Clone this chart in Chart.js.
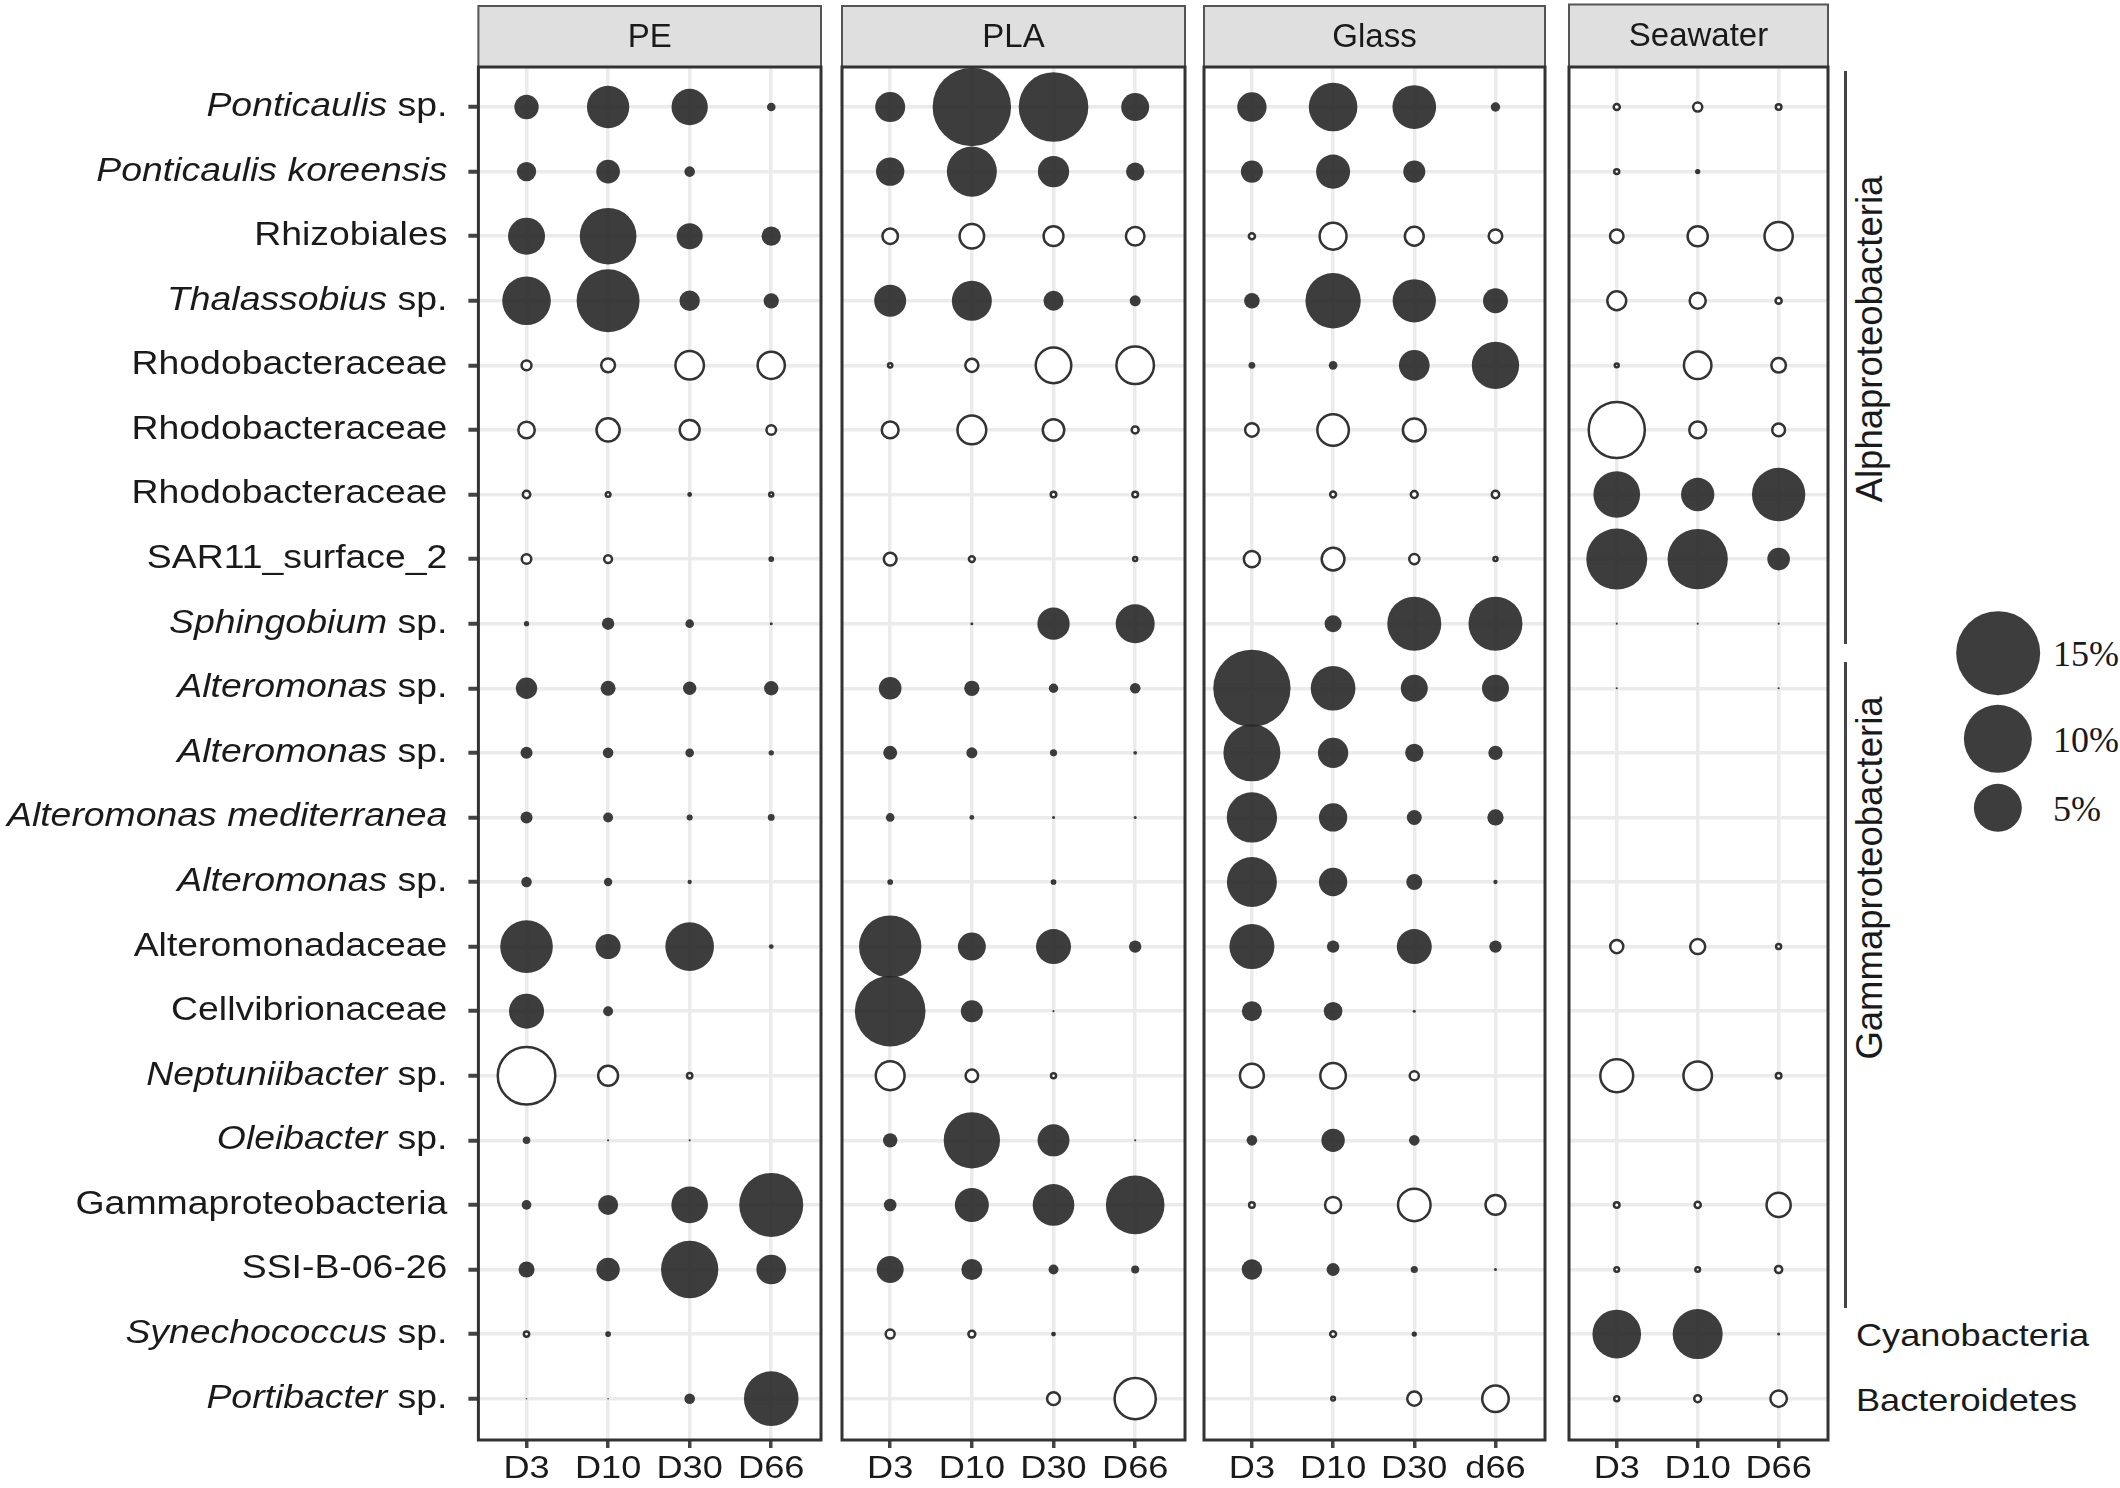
<!DOCTYPE html>
<html>
<head>
<meta charset="utf-8">
<script src="https://cdn.jsdelivr.net/npm/chart.js@4.4.1/dist/chart.umd.min.js"></script>
<style>
  html, body { margin: 0; padding: 0; background: #ffffff; }
  #wrap { position: relative; width: 2120px; height: 1488px; overflow: hidden; background: #ffffff;
          font-family: 'Liberation Sans', Arial, sans-serif; color: #1a1a1a; }
  canvas { position: absolute; top: 0; }
  .gline { position: absolute; width: 3px; background: #444; }
  .grp { position: absolute; white-space: nowrap; font-size: 36.5px; transform: translate(-50%, -50%) rotate(-90deg); }
  .phy { position: absolute; white-space: nowrap; font-size: 32px; transform-origin: left center; transform: translateY(-50%) scaleX(1.13); }
  .lgc { position: absolute; border-radius: 50%; background: rgba(40,40,40,0.9); transform: translate(-50%, -50%); }
  .lgt { position: absolute; font-family: 'Liberation Serif', 'Times New Roman', serif; font-size: 36px; transform: translateY(-50%); }
</style>
</head>
<body>
<div id="wrap"></div>
<script>
// ---------------- DATA ----------------
const rowNames = [
  'Ponticaulis sp.', 'Ponticaulis koreensis', 'Rhizobiales', 'Thalassobius sp.',
  'Rhodobacteraceae', 'Rhodobacteraceae', 'Rhodobacteraceae', 'SAR11_surface_2',
  'Sphingobium sp.', 'Alteromonas sp.', 'Alteromonas sp.', 'Alteromonas mediterranea',
  'Alteromonas sp.', 'Alteromonadaceae', 'Cellvibrionaceae', 'Neptuniibacter sp.',
  'Oleibacter sp.', 'Gammaproteobacteria', 'SSI-B-06-26', 'Synechococcus sp.', 'Portibacter sp.'
];
// italic (genus / species) part at the start of each row label
const rowItalic = [
  'Ponticaulis', 'Ponticaulis koreensis', '', 'Thalassobius',
  '', '', '', '',
  'Sphingobium', 'Alteromonas', 'Alteromonas', 'Alteromonas mediterranea',
  'Alteromonas', '', '', 'Neptuniibacter',
  'Oleibacter', '', '', 'Synechococcus', 'Portibacter'
];

const panelNames = ['PE', 'PLA', 'Glass', 'Seawater'];
const colsPE    = ['D3', 'D10', 'D30', 'D66'];
const colsPLA   = ['D3', 'D10', 'D30', 'D66'];
const colsGlass = ['D3', 'D10', 'D30', 'd66'];
const colsSea   = ['D3', 'D10', 'D66'];

// relative abundance (%), rows x sampling days
const pctPE = [
  [1.27, 3.85, 2.83, 0.16], [0.80, 1.20, 0.24, 0], [2.93, 6.88, 1.45, 0.80], [5.07, 8.50, 0.89, 0.50],
  [0.33, 0.57, 2.06, 1.89], [0.77, 1.41, 1.07, 0.31], [0.21, 0.11, 0.05, 0.09], [0.31, 0.23, 0, 0.07],
  [0.06, 0.33, 0.16, 0.02], [0.98, 0.48, 0.38, 0.44], [0.31, 0.24, 0.16, 0.06], [0.31, 0.21, 0.08, 0.10],
  [0.24, 0.15, 0.04, 0], [5.94, 1.34, 5.07, 0.05], [2.63, 0.21, 0, 0], [7.72, 1.07, 0.13, 0],
  [0.12, 0.01, 0.01, 0], [0.20, 0.86, 2.88, 8.78], [0.55, 1.17, 7.04, 1.89], [0.13, 0.07, 0, 0],
  [0.005, 0.005, 0.24, 6.40]
];
const pctPLA = [
  [1.93, 13.2, 10.4, 1.68], [1.72, 5.36, 2.10, 0.72], [0.69, 1.56, 1.07, 0.95], [2.19, 3.43, 0.86, 0.26],
  [0.10, 0.52, 3.10, 3.43], [0.80, 2.10, 1.23, 0.19], [0, 0, 0.14, 0.14], [0.50, 0.15, 0, 0.09],
  [0, 0.02, 2.24, 3.26], [1.10, 0.50, 0.19, 0.24], [0.42, 0.26, 0.11, 0.03], [0.16, 0.05, 0.02, 0.02],
  [0.07, 0, 0.07, 0], [8.33, 1.68, 2.63, 0.33], [10.7, 1.04, 0.01, 0], [2.10, 0.48, 0.12, 0],
  [0.44, 6.80, 2.19, 0.01], [0.34, 2.48, 3.72, 7.36], [1.56, 0.95, 0.21, 0.14], [0.28, 0.19, 0.05, 0],
  [0, 0, 0.50, 4.09]
];
const pctGlass = [
  [1.85, 5.07, 4.09, 0.19], [1.04, 2.48, 1.04, 0], [0.16, 1.85, 0.98, 0.55], [0.52, 6.56, 4.02, 1.34],
  [0.10, 0.16, 2.02, 4.80], [0.55, 2.48, 1.37, 0], [0, 0.15, 0.19, 0.21], [0.74, 1.37, 0.34, 0.09],
  [0, 0.62, 6.25, 6.25], [12.8, 4.28, 1.56, 1.56], [6.96, 1.97, 0.72, 0.44], [5.43, 1.72, 0.48, 0.57],
  [5.36, 1.72, 0.55, 0.04], [4.34, 0.33, 2.63, 0.33], [0.86, 0.74, 0.02, 0], [1.49, 1.68, 0.29, 0],
  [0.24, 1.17, 0.24, 0], [0.14, 0.74, 2.63, 1.07], [0.89, 0.36, 0.11, 0.02], [0, 0.15, 0.06, 0],
  [0, 0.08, 0.59, 1.80]
];
const pctSea = [
  [0.16, 0.29, 0.14], [0.12, 0.06, 0], [0.55, 1.10, 2.02], [0.98, 0.74, 0.16],
  [0.09, 1.93, 0.62], [7.36, 0.80, 0.50], [4.67, 2.38, 6.10], [7.97, 7.80, 1.10],
  [0.01, 0.01, 0.01], [0.01, 0, 0.01], [0, 0, 0], [0, 0, 0],
  [0, 0, 0], [0.52, 0.66, 0.12], [0, 0, 0], [2.68, 2.06, 0.14],
  [0, 0, 0], [0.14, 0.16, 1.52], [0.11, 0.11, 0.20], [5.07, 5.36, 0.02],
  [0.12, 0.19, 0.77]
];
// 1 = filled circle, 0 = open circle (per row)
const fillPE    = [1,1,1,1,0,0,0,0,1,1,1,1,1,1,1,0,1,1,1,0,1];
const fillPLA   = [1,1,0,1,0,0,0,0,1,1,1,1,0,1,1,0,1,1,1,0,0];
const fillGlass = [1,1,0,1,1,0,0,0,1,1,1,1,1,1,1,0,1,0,1,0,0];
const fillSea   = [0,0,0,0,0,0,1,1,1,1,0,0,0,0,0,0,0,0,0,1,0];

const legendPct = [15, 10, 5];
const legendLabels = ['15%', '10%', '5%'];

const groupNames = ['Alphaproteobacteria', 'Gammaproteobacteria'];
const phylumNames = ['Cyanobacteria', 'Bacteroidetes'];

// ---------------- STYLE / LAYOUT ----------------
const FILL = 'rgba(40,40,40,0.9)';
const OPEN = '#333333';
const OPEN_W = 2.5;
const rad = v => 10.8 * Math.sqrt(v);
const TOP = 67, BOTTOM_AXIS = 48, H = 1488;
const FONT = "'Liberation Sans', Arial, sans-serif";
const STRETCH = 1.13;
const YSTRETCH = 1.15;

const panels = [
  {name: panelNames[0], cols: colsPE,    vals: pctPE,    fill: fillPE,    left: 478.4, right: 821,    axisW: 478.4, stripTop: 6},
  {name: panelNames[1], cols: colsPLA,   vals: pctPLA,   fill: fillPLA,   left: 842,   right: 1184.6, axisW: 6,     stripTop: 6},
  {name: panelNames[2], cols: colsGlass, vals: pctGlass, fill: fillGlass, left: 1204,  right: 1544.5, axisW: 6,     stripTop: 6},
  {name: panelNames[3], cols: colsSea,   vals: pctSea,   fill: fillSea,   left: 1568.5,right: 1827.5, axisW: 6,     stripTop: 4.5}
];

const chrome = {
  id: 'chrome',
  afterDraw(chart, args, opts) {
    const ctx = chart.ctx, a = chart.chartArea;
    ctx.save();
    // strip
    ctx.fillStyle = '#dfdfdf';
    ctx.fillRect(a.left, opts.stripTop, a.right - a.left, TOP - opts.stripTop);
    ctx.strokeStyle = '#555';
    ctx.lineWidth = 2;
    ctx.strokeRect(a.left, opts.stripTop, a.right - a.left, TOP - opts.stripTop);
    ctx.fillStyle = '#1a1a1a';
    ctx.font = '33px ' + FONT;
    ctx.textAlign = 'center';
    ctx.textBaseline = 'middle';
    ctx.fillText(opts.title, (a.left + a.right) / 2, (opts.stripTop + TOP) / 2 + 1);
    // panel border
    ctx.strokeStyle = '#333';
    ctx.lineWidth = 3;
    ctx.strokeRect(a.left, a.top, a.right - a.left, a.bottom - a.top);
    // x tick labels (slightly wide lettering as in the original)
    const xs = chart.scales.x;
    ctx.font = '32px ' + FONT;
    ctx.textAlign = 'center';
    ctx.textBaseline = 'middle';
    ctx.fillStyle = '#1a1a1a';
    opts.cols.forEach((c, i) => {
      ctx.save();
      ctx.translate(xs.getPixelForValue(i), a.bottom + 29);
      ctx.scale(STRETCH, 1);
      ctx.fillText(c, 0, 0);
      ctx.restore();
    });
    // row labels (mixed italic / upright)
    if (opts.rowLabels) {
      const ys = chart.scales.y;
      const xr = a.left - 31;
      rowNames.forEach((name, i) => {
        const it = rowItalic[i];
        const rest = name.slice(it.length);
        const fI = 'italic 32.5px ' + FONT, fN = '32.5px ' + FONT;
        ctx.font = fI; const wI = it ? ctx.measureText(it).width : 0;
        ctx.font = fN; const wN = ctx.measureText(rest).width;
        const y = ys.getPixelForValue(i);
        ctx.save();
        ctx.translate(xr, y);
        ctx.scale(YSTRETCH, 1);
        ctx.textAlign = 'left';
        ctx.textBaseline = 'middle';
        ctx.fillStyle = '#1a1a1a';
        const x0 = -(wI + wN);
        if (it) { ctx.font = fI; ctx.fillText(it, x0, 0); }
        ctx.font = fN; ctx.fillText(rest, x0 + wI, 0);
        ctx.restore();
      });
    }
    ctx.restore();
  }
};

const wrap = document.getElementById('wrap');

panels.forEach((p, pi) => {
  const W = Math.round(p.axisW + (p.right - p.left) + 6);
  const cv = document.createElement('canvas');
  cv.width = W; cv.height = H;
  cv.style.left = (p.left - p.axisW) + 'px';
  cv.style.width = W + 'px';
  cv.style.height = H + 'px';
  wrap.appendChild(cv);

  const pts = [];
  p.vals.forEach((row, r) => row.forEach((v, c) => {
    if (v > 0) pts.push({x: c, y: r, v: v, f: p.fill[r]});
  }));

  new Chart(cv, {
    type: 'scatter',
    data: {
      datasets: [{
        data: pts,
        pointRadius: ctx => ctx.raw.f ? rad(ctx.raw.v) : Math.max(0.8, rad(ctx.raw.v) - OPEN_W / 2),
        pointBackgroundColor: ctx => ctx.raw.f ? FILL : '#ffffff',
        pointBorderColor: ctx => ctx.raw.f ? FILL : OPEN,
        pointBorderWidth: ctx => ctx.raw.f ? 0 : OPEN_W,
        clip: false
      }]
    },
    options: {
      responsive: false,
      animation: false,
      events: [],
      layout: {autoPadding: false, padding: {top: TOP, right: 6, left: 0, bottom: 0}},
      plugins: {
        legend: {display: false},
        tooltip: {enabled: false},
        chrome: {title: p.name, stripTop: p.stripTop, rowLabels: pi === 0, cols: p.cols}
      },
      scales: {
        x: {
          type: 'linear',
          min: -0.59,
          max: p.cols.length - 1 + 0.61,
          afterBuildTicks: s => { s.ticks = p.cols.map((_, i) => ({value: i})); },
          afterFit: s => { s.height = BOTTOM_AXIS; s.paddingLeft = 0; s.paddingRight = 0; },
          border: {display: false},
          grid: {color: '#ebebeb', lineWidth: 3.5, drawTicks: true, tickLength: 8, tickColor: '#444', tickWidth: 3.5},
          ticks: {display: false}
        },
        y: {
          type: 'linear',
          reverse: true,
          min: -0.62,
          max: rowNames.length - 1 + 0.64,
          afterBuildTicks: s => { s.ticks = rowNames.map((_, i) => ({value: i})); },
          afterFit: s => { s.width = p.axisW; s.paddingTop = 0; s.paddingBottom = 0; },
          border: {display: false},
          grid: {color: '#ebebeb', lineWidth: 3.5, drawTicks: pi === 0, tickLength: 10, tickColor: '#444', tickWidth: 4},
          ticks: {display: false}
        }
      }
    },
    plugins: [chrome]
  });
});

// ---------------- right-hand annotations ----------------
function addDiv(cls, css, text) {
  const d = document.createElement('div');
  d.className = cls;
  d.style.cssText = css;
  if (text !== undefined) d.textContent = text;
  wrap.appendChild(d);
  return d;
}
addDiv('gline', 'left:1844px;top:71px;height:573px;');
addDiv('gline', 'left:1844px;top:662px;height:646px;');
addDiv('grp', 'left:1870px;top:339px;', groupNames[0]);
addDiv('grp', 'left:1870px;top:878px;', groupNames[1]);
addDiv('phy', 'left:1856px;top:1335px;', phylumNames[0]);
addDiv('phy', 'left:1856px;top:1400px;', phylumNames[1]);

// legend
const legendY = [653, 739, 808];
legendPct.forEach((v, i) => {
  const d = 2 * rad(v);
  addDiv('lgc', `left:1998px;top:${legendY[i]}px;width:${d}px;height:${d}px;`);
  addDiv('lgt', `left:2053px;top:${legendY[i] + 1}px;`, legendLabels[i]);
});
</script>
</body>
</html>
